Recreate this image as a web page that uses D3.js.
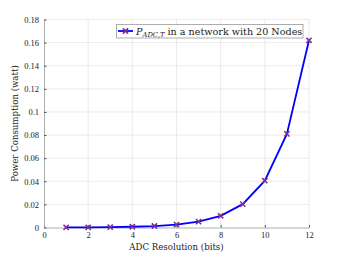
<!DOCTYPE html>
<html><head><meta charset="utf-8">
<script src="https://cdn.jsdelivr.net/npm/d3@7"></script>
<style>body{margin:0;background:#fff}svg{display:block}</style>
</head><body><svg id="c" width="341" height="256"></svg>
<script>
const bits = [1,2,3,4,5,6,7,8,9,10,11,12];
const power = [0.00008,0.00016,0.00032,0.00063,0.00127,0.00253,0.00506,0.0101,0.0202,0.0405,0.081,0.162];
const xTicks = [0,2,4,6,8,10,12];
const yTicks = [0,0.02,0.04,0.06,0.08,0.1,0.12,0.14,0.16,0.18];
const yTickLabels = ["0","0.02","0.04","0.06","0.08","0.1","0.12","0.14","0.16","0.18"];

const svg = d3.select("#c");
const L=44,R=309,T=19.5,B=227.5;
const x = d3.scaleLinear().domain([0,12]).range([L,R]);
const y = d3.scaleLinear().domain([0,0.18]).range([B,T]);
const font = "'Liberation Serif','DejaVu Serif',serif";
const wide = "'DejaVu Serif',serif";

// grid
svg.append("g").selectAll("line").data(xTicks.slice(1)).join("line")
  .attr("x1",d=>x(d)).attr("x2",d=>x(d)).attr("y1",B).attr("y2",T)
  .attr("stroke","#e6e6e6").attr("stroke-width",0.8);
svg.append("g").selectAll("line").data(yTicks.slice(1)).join("line")
  .attr("x1",L).attr("x2",R).attr("y1",d=>y(d)).attr("y2",d=>y(d))
  .attr("stroke","#e6e6e6").attr("stroke-width",0.8);

// axes
const xAxis = d3.axisBottom(x).tickValues(xTicks).tickSizeInner(-2.5).tickSizeOuter(0).tickPadding(4);
const gx = svg.append("g").attr("transform",`translate(0,${B})`).call(xAxis);
const yAxis = d3.axisLeft(y).tickValues(yTicks).tickFormat((d,i)=>yTickLabels[i]).tickSizeInner(-2.5).tickSizeOuter(0).tickPadding(5);
const gy = svg.append("g").attr("transform",`translate(${L},0)`).call(yAxis);
[gx,gy].forEach(g=>{
  g.select(".domain").attr("stroke","#9a9a9a").attr("stroke-width",0.8);
  g.selectAll(".tick line").attr("stroke","#555");
  g.selectAll("text").attr("font-family",font).attr("font-size",8.5).attr("fill","#222");
});

// line
svg.append("path").datum(bits.map((b,i)=>[b,power[i]]))
  .attr("d",d3.line().x(d=>x(d[0])).y(d=>y(d[1])))
  .attr("fill","none").attr("stroke","#0000ff").attr("stroke-width",1.8);

// markers
const m=2.6;
svg.append("g").selectAll("path").data(bits.map((b,i)=>[b,power[i]])).join("path")
  .attr("d",d=>{const cx=x(d[0]),cy=y(d[1]);return `M${cx-m},${cy-m}L${cx+m},${cy+m}M${cx-m},${cy+m}L${cx+m},${cy-m}`;})
  .attr("stroke","#7e2f8e").attr("stroke-width",1.6).attr("fill","none");

// labels
svg.append("text").attr("x",(L+R)/2).attr("y",250).attr("text-anchor","middle")
  .attr("font-family",wide).attr("font-size",8.6).attr("fill","#222").text("ADC Resolution (bits)");
svg.append("text").attr("transform",`translate(18,${(T+B)/2}) rotate(-90)`).attr("text-anchor","middle")
  .attr("font-family",wide).attr("font-size",8.6).attr("fill","#222").text("Power Consumption (watt)");

// legend
const lg = svg.append("g");
lg.append("rect").attr("x",116.5).attr("y",24.5).attr("width",186.5).attr("height",13.5)
  .attr("fill","#fff").attr("stroke","#9a9a9a").attr("stroke-width",0.8);
lg.append("line").attr("x1",118).attr("x2",133).attr("y1",31).attr("y2",31)
  .attr("stroke","#0000ff").attr("stroke-width",1.8);
lg.append("path").attr("d",`M${125.5-m},${31-m}L${125.5+m},${31+m}M${125.5-m},${31+m}L${125.5+m},${31-m}`)
  .attr("stroke","#7e2f8e").attr("stroke-width",1.6);
const t = lg.append("text").attr("x",136).attr("y",34.5).attr("font-family",wide).attr("font-size",9.6).attr("fill","#222");
t.append("tspan").attr("font-style","italic").text("P");
t.append("tspan").attr("font-style","italic").attr("font-size",6.8).attr("dy",2).text("ADC,T");
t.append("tspan").attr("dy",-2).text(" in a network with 20 Nodes");
</script></body></html>
